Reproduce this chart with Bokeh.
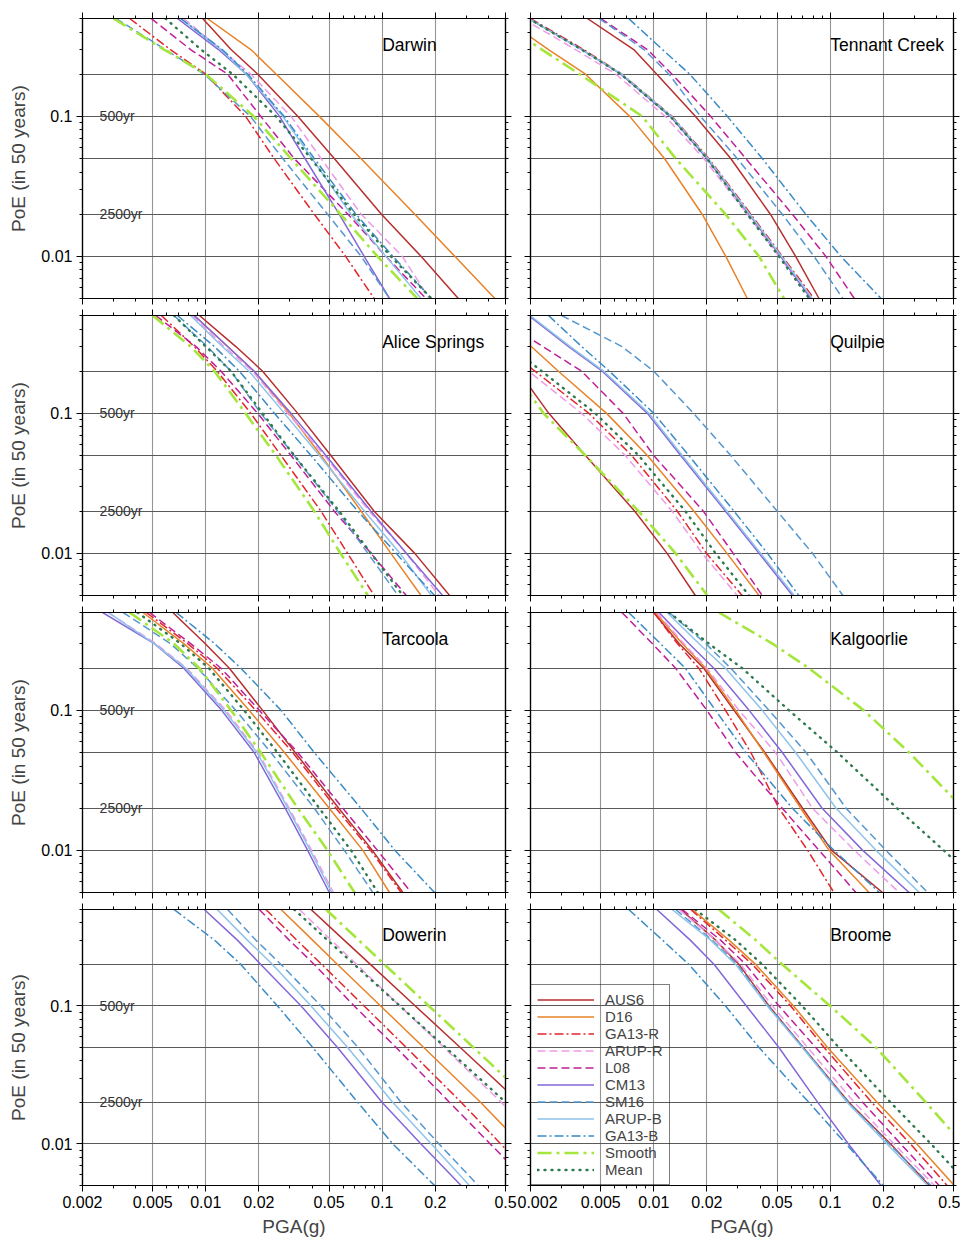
from bokeh.plotting import figure
from bokeh.models import (Range1d, LogAxis, FixedTicker, CustomJSTickFormatter,
                          Legend, LegendItem, Label)
from bokeh.layouts import gridplot
from bokeh.embed import file_html
from bokeh.resources import INLINE

FONT = "Liberation Sans"

# ---------------- data ----------------
# probability of exceedance levels (in 50 years) at which PGA is read
POE = [0.5, 0.3, 0.2, 0.1, 0.05, 0.02, 0.01, 0.005]

MODELS = ["AUS6", "D16", "GA13-R", "ARUP-R", "L08", "CM13", "SM16",
          "ARUP-B", "GA13-B", "Smooth", "Mean"]

STATIONS = ["Darwin", "Tennant Creek", "Alice Springs", "Quilpie",
            "Tarcoola", "Kalgoorlie", "Dowerin", "Broome"]

X_TICKS = [0.002, 0.005, 0.01, 0.02, 0.05, 0.1, 0.2, 0.5]
X_MINOR = [0.003, 0.004, 0.006, 0.007, 0.008, 0.009, 0.03, 0.04,
           0.06, 0.07, 0.08, 0.09, 0.3, 0.4]
Y_TICKS = [0.01, 0.1]
Y_MINOR = [0.005, 0.006, 0.007, 0.008, 0.009, 0.02, 0.03, 0.04, 0.05,
           0.06, 0.07, 0.08, 0.09, 0.2, 0.3, 0.4, 0.5]
Y_GRID = [0.01, 0.02, 0.05, 0.1, 0.2]

RP_LABELS = ["500yr", "2500yr"]
RP_POE = [0.1, 0.02]

# PGA (g) of each hazard curve at the POE levels above
DARWIN = {
    "AUS6":   [0.0096, 0.0139, 0.0197, 0.0332, 0.0535, 0.099, 0.166, 0.27],
    "D16":    [0.0102, 0.0180, 0.0251, 0.044, 0.0757, 0.153, 0.258, 0.435],
    "GA13-R": [0.0037, 0.0063, 0.0100, 0.0168, 0.0244, 0.0412, 0.062, 0.090],
    "ARUP-R": [0.0075, 0.0122, 0.0180, 0.0304, 0.045, 0.076, 0.130, 0.185],
    "L08":    [0.0049, 0.0082, 0.0133, 0.0205, 0.0317, 0.064, 0.105, 0.177],
    "CM13":   [0.0069, 0.0118, 0.0170, 0.0262, 0.0365, 0.057, 0.079, 0.110],
    "SM16":   [0.0031, 0.0059, 0.0098, 0.0179, 0.0273, 0.049, 0.076, 0.110],
    "ARUP-B": [0.0072, 0.0122, 0.0169, 0.0273, 0.040, 0.0665, 0.105, 0.166],
    "GA13-B": [0.0072, 0.0124, 0.0173, 0.0278, 0.0412, 0.071, 0.115, 0.190],
    "Smooth": [0.0030, 0.0058, 0.0100, 0.0187, 0.0304, 0.058, 0.094, 0.158],
    "Mean":   [0.0059, 0.0094, 0.0142, 0.0250, 0.0395, 0.069, 0.112, 0.190],
}

TENNANT_CREEK = {
    "AUS6":   [0.0042, 0.0077, 0.0104, 0.0172, 0.0273, 0.0458, 0.0637, 0.0864],
    "D16":    [0.00142, 0.00253, 0.0041, 0.0073, 0.0115, 0.0188, 0.0256, 0.0339],
    "GA13-R": [0.0020, 0.0040, 0.0066, 0.0127, 0.0205, 0.0355, 0.0535, 0.081],
    "ARUP-R": [0.0018, 0.0036, 0.0061, 0.0116, 0.0192, 0.0339, 0.0512, 0.0777],
    "L08":    [0.0050, 0.0092, 0.0127, 0.0210, 0.0332, 0.061, 0.0945, 0.137],
    "CM13":   [0.00195, 0.0039, 0.0065, 0.0124, 0.0200, 0.0347, 0.0523, 0.0777],
    "SM16":   [0.0049, 0.0088, 0.0122, 0.0184, 0.0297, 0.0535, 0.081, 0.118],
    "ARUP-B": [0.00195, 0.0039, 0.0066, 0.0126, 0.0203, 0.0350, 0.0530, 0.079],
    "GA13-B": [0.0072, 0.0112, 0.0160, 0.0261, 0.0412, 0.0727, 0.115, 0.194],
    "Smooth": [0.00126, 0.00232, 0.0038, 0.0086, 0.0133, 0.0255, 0.0395, 0.0547],
    "Mean":   [0.00195, 0.0039, 0.0065, 0.0124, 0.0200, 0.0339, 0.0512, 0.076],
}

ALICE_SPRINGS = {
    "AUS6":   [0.0092, 0.0148, 0.0210, 0.0332, 0.0512, 0.090, 0.153, 0.241],
    "D16":    [0.0086, 0.0133, 0.0188, 0.0297, 0.045, 0.076, 0.112, 0.166],
    "GA13-R": [0.0056, 0.0086, 0.0116, 0.0180, 0.0267, 0.045, 0.0637, 0.090],
    "ARUP-R": [0.0084, 0.0127, 0.0184, 0.0291, 0.047, 0.0845, 0.137, 0.210],
    "L08":    [0.0052, 0.0088, 0.0122, 0.0197, 0.0304, 0.0535, 0.0864, 0.137],
    "CM13":   [0.0086, 0.0133, 0.0188, 0.0304, 0.048, 0.0864, 0.137, 0.220],
    "SM16":   [0.0066, 0.0102, 0.0139, 0.0205, 0.0317, 0.0558, 0.083, 0.123],
    "ARUP-B": [0.0082, 0.0124, 0.0176, 0.0279, 0.044, 0.0794, 0.126, 0.190],
    "GA13-B": [0.0069, 0.0112, 0.0155, 0.0245, 0.0395, 0.0727, 0.120, 0.198],
    "Smooth": [0.0050, 0.0082, 0.0112, 0.0168, 0.0250, 0.0412, 0.058, 0.083],
    "Mean":   [0.0066, 0.0100, 0.0139, 0.0210, 0.0317, 0.057, 0.0864, 0.131],
}

QUILPIE = {
    "AUS6":   [0.00071, 0.00121, 0.00171, 0.00254, 0.0041, 0.0078, 0.0119, 0.0172],
    "D16":    [0.00121, 0.00202, 0.00288, 0.0054, 0.0092, 0.0169, 0.0260, 0.0395],
    "GA13-R": [0.00083, 0.00142, 0.00212, 0.00429, 0.0075, 0.0136, 0.0199, 0.0317],
    "ARUP-R": [0.00075, 0.00130, 0.00195, 0.0039, 0.0069, 0.0127, 0.0188, 0.0297],
    "L08":    [0.00123, 0.00235, 0.0039, 0.0067, 0.0100, 0.0191, 0.0282, 0.0412],
    "CM13":   [0.00195, 0.00329, 0.0051, 0.0092, 0.0142, 0.0255, 0.0395, 0.0612],
    "SM16":   [0.0030, 0.0066, 0.0100, 0.0168, 0.0273, 0.0501, 0.0794, 0.118],
    "ARUP-B": [0.00199, 0.00336, 0.0052, 0.0094, 0.0145, 0.0260, 0.0404, 0.0625],
    "GA13-B": [0.00253, 0.0039, 0.0056, 0.0100, 0.0158, 0.0285, 0.0441, 0.0664],
    "Smooth": [0.00063, 0.00109, 0.0016, 0.00237, 0.0041, 0.0082, 0.0133, 0.0201],
    "Mean":   [0.00089, 0.00153, 0.00232, 0.00466, 0.0082, 0.0151, 0.0224, 0.0347],
}

TARCOOLA = {
    "AUS6":   [0.0065, 0.0099, 0.0136, 0.0210, 0.0321, 0.0567, 0.0880, 0.131],
    "D16":    [0.0044, 0.0075, 0.0109, 0.0176, 0.0279, 0.0501, 0.0777, 0.110],
    "GA13-R": [0.0046, 0.0079, 0.0116, 0.0192, 0.0311, 0.0547, 0.0860, 0.128],
    "ARUP-R": [0.0028, 0.0052, 0.0078, 0.0130, 0.0198, 0.0297, 0.0398, 0.0529],
    "L08":    [0.0048, 0.0082, 0.0122, 0.0201, 0.0332, 0.0598, 0.0940, 0.146],
    "CM13":   [0.0026, 0.0051, 0.0075, 0.0123, 0.0188, 0.0282, 0.0378, 0.0501],
    "SM16":   [0.0034, 0.0063, 0.0090, 0.0148, 0.0234, 0.0412, 0.061, 0.0885],
    "ARUP-B": [0.0028, 0.0051, 0.0077, 0.0127, 0.0195, 0.0292, 0.0391, 0.0517],
    "GA13-B": [0.0068, 0.0112, 0.0158, 0.0267, 0.0412, 0.0757, 0.118, 0.198],
    "Smooth": [0.0037, 0.0066, 0.0092, 0.0139, 0.0205, 0.0332, 0.049, 0.0697],
    "Mean":   [0.0041, 0.0072, 0.0104, 0.0165, 0.0255, 0.044, 0.0666, 0.0945],
}

KALGOORLIE = {
    "AUS6":   [0.0100, 0.0139, 0.0192, 0.0285, 0.0426, 0.0697, 0.102, 0.198],
    "D16":    [0.0102, 0.0145, 0.0197, 0.0291, 0.0421, 0.0680, 0.0986, 0.166],
    "GA13-R": [0.0100, 0.0136, 0.0180, 0.0255, 0.0355, 0.0512, 0.0745, 0.105],
    "ARUP-R": [0.0104, 0.0148, 0.0200, 0.0304, 0.049, 0.0794, 0.137, 0.246],
    "L08":    [0.0066, 0.0098, 0.0133, 0.0200, 0.0291, 0.0535, 0.0864, 0.140],
    "CM13":   [0.0107, 0.0158, 0.0219, 0.0347, 0.0535, 0.090, 0.153, 0.280],
    "SM16":   [0.0122, 0.0197, 0.0273, 0.0450, 0.073, 0.123, 0.207, 0.357],
    "ARUP-B": [0.0119, 0.0180, 0.0255, 0.0412, 0.0637, 0.108, 0.182, 0.320],
    "GA13-B": [0.0072, 0.0109, 0.0151, 0.0224, 0.0332, 0.061, 0.105, 0.190],
    "Smooth": [0.0234, 0.047, 0.0757, 0.155, 0.280, 0.566, 0.97, 1.66],
    "Mean":   [0.0122, 0.0205, 0.0317, 0.0584, 0.110, 0.239, 0.44, 0.80],
}

DOWERIN = {
    "AUS6":   [0.0395, 0.0608, 0.0857, 0.154, 0.277, 0.60, 1.04, 1.80],
    "D16":    [0.0267, 0.0403, 0.0558, 0.098, 0.172, 0.362, 0.61, 1.05],
    "GA13-R": [0.0219, 0.0328, 0.0454, 0.079, 0.137, 0.281, 0.47, 0.80],
    "ARUP-R": [0.0339, 0.0514, 0.0716, 0.126, 0.224, 0.474, 0.80, 1.38],
    "L08":    [0.0201, 0.0297, 0.0412, 0.0694, 0.120, 0.241, 0.41, 0.70],
    "CM13":   [0.0098, 0.0151, 0.0205, 0.0347, 0.0558, 0.100, 0.166, 0.280],
    "SM16":   [0.0133, 0.0192, 0.0267, 0.0450, 0.073, 0.128, 0.210, 0.350],
    "ARUP-B": [0.0116, 0.0172, 0.0239, 0.0395, 0.0637, 0.115, 0.190, 0.312],
    "GA13-B": [0.0066, 0.0112, 0.0158, 0.0255, 0.0404, 0.0727, 0.115, 0.198],
    "Smooth": [0.0480, 0.0736, 0.103, 0.184, 0.329, 0.707, 1.20, 2.05],
    "Mean":   [0.0317, 0.049, 0.0694, 0.126, 0.229, 0.502, 0.88, 1.55],
}

BROOME = {
    "AUS6":   [0.0142, 0.0224, 0.0304, 0.0450, 0.0703, 0.128, 0.220, 0.365],
    "D16":    [0.0165, 0.0267, 0.0378, 0.0620, 0.0966, 0.185, 0.310, 0.505],
    "GA13-R": [0.0162, 0.0255, 0.0362, 0.0597, 0.0924, 0.172, 0.285, 0.460],
    "ARUP-R": [0.0139, 0.0224, 0.0311, 0.0470, 0.0745, 0.137, 0.230, 0.390],
    "L08":    [0.0145, 0.0239, 0.0332, 0.0512, 0.0828, 0.153, 0.251, 0.415],
    "CM13":   [0.0104, 0.0161, 0.0220, 0.0335, 0.0512, 0.085, 0.127, 0.194],
    "SM16":   [0.0133, 0.0214, 0.0297, 0.0447, 0.0703, 0.127, 0.216, 0.373],
    "ARUP-B": [0.0127, 0.0210, 0.0291, 0.0440, 0.0694, 0.125, 0.210, 0.357],
    "GA13-B": [0.0072, 0.0112, 0.0158, 0.0255, 0.0395, 0.0757, 0.123, 0.200],
    "Smooth": [0.0234, 0.0378, 0.0535, 0.100, 0.182, 0.349, 0.566, 0.953],
    "Mean":   [0.0172, 0.0291, 0.0412, 0.0694, 0.112, 0.220, 0.373, 0.615],
}

STATION_DATA = [DARWIN, TENNANT_CREEK, ALICE_SPRINGS, QUILPIE,
                TARCOOLA, KALGOORLIE, DOWERIN, BROOME]

# ---------------- styles ----------------
STYLE = {
    "AUS6":   ("#b5302e", "solid", 1.5),
    "D16":    ("#e8832a", "solid", 1.5),
    "GA13-R": ("#e3262d", "9 3 2 3", 1.5),
    "ARUP-R": ("#ef9be8", "8 4", 1.5),
    "L08":    ("#bf1f98", "8 4", 1.5),
    "CM13":   ("#8467d8", "solid", 1.5),
    "SM16":   ("#5697cf", "8 4", 1.5),
    "ARUP-B": ("#8ec3ea", "solid", 1.5),
    "GA13-B": ("#3a8bc6", "9 3 2 3", 1.5),
    "Smooth": ("#a4e63c", "14 5 3 5", 2.6),
    "Mean":   ("#2e7a4e", "1 6", 2.4),
}


def cfg_axis(ax, ticks, minor, labels):
    ax.ticker = FixedTicker(ticks=ticks, minor_ticks=minor)
    ax.axis_line_color = "black"
    ax.axis_line_width = 1.2
    ax.major_tick_line_color = "black"
    ax.minor_tick_line_color = "black"
    ax.major_tick_in = 0
    ax.major_tick_out = 6
    ax.minor_tick_in = 0
    ax.minor_tick_out = 3
    if labels:
        ax.formatter = CustomJSTickFormatter(code="return tick.toString()")
        ax.major_label_text_font = FONT
        ax.major_label_text_font_size = "16px"
        ax.major_label_text_color = "black"
        ax.major_label_standoff = 4
    else:
        ax.formatter = CustomJSTickFormatter(code="return ''")
        ax.major_label_text_font_size = "0px"
        ax.major_label_standoff = 0


def make_panel(idx):
    name = STATIONS[idx]
    data = STATION_DATA[idx]
    col = idx % 2
    row = idx // 2
    left = col == 0
    bottom = row == 3
    b_top = 18 if row == 0 else 10
    b_bot = 50 if bottom else 7
    b_left = 82 if left else 13
    b_right = 12 if left else 7
    p = figure(width=b_left + 423 + b_right, height=b_top + 280 + b_bot,
               x_axis_type="log", y_axis_type="log",
               x_range=Range1d(0.002, 0.5), y_range=Range1d(0.005, 0.5),
               output_backend="svg", toolbar_location=None,
               min_border_left=b_left, min_border_right=b_right,
               min_border_top=b_top, min_border_bottom=b_bot)
    p.outline_line_color = "black"
    p.outline_line_width = 1.2
    p.background_fill_color = "white"
    p.border_fill_color = "white"

    xb = p.below[0]
    yl = p.left[0]
    cfg_axis(xb, X_TICKS, X_MINOR, bottom)
    cfg_axis(yl, Y_TICKS, Y_MINOR, left)
    xt = LogAxis()
    cfg_axis(xt, X_TICKS, X_MINOR, False)
    p.add_layout(xt, "above")
    yr = LogAxis()
    cfg_axis(yr, Y_TICKS, Y_MINOR, False)
    p.add_layout(yr, "right")

    if left:
        yl.axis_label = "PoE (in 50 years)"
        yl.axis_label_text_font = FONT
        yl.axis_label_text_font_size = "19px"
        yl.axis_label_text_font_style = "normal"
        yl.axis_label_standoff = 9
    if bottom:
        xb.axis_label = "PGA(g)"
        xb.axis_label_text_font = FONT
        xb.axis_label_text_font_size = "19px"
        xb.axis_label_text_font_style = "normal"
        xb.axis_label_standoff = 5

    p.xgrid.ticker = FixedTicker(ticks=X_TICKS)
    p.ygrid.ticker = FixedTicker(ticks=Y_GRID)
    p.xgrid.grid_line_color = "#959595"
    p.xgrid.grid_line_width = 1.1
    p.ygrid.grid_line_color = "#5a5a5a"
    p.ygrid.grid_line_width = 1.0

    rends = {}
    for m in MODELS:
        color, dash, w = STYLE[m]
        r = p.line(x=data[m], y=POE, line_color=color, line_dash=dash,
                   line_width=w, line_cap="round" if m == "Mean" else "butt")
        rends[m] = r

    p.add_layout(Label(x=0.1, y=0.325, text=name, text_font=FONT,
                       text_font_size="17.5px", text_baseline="middle",
                       text_align="left", text_color="black"))
    if left:
        for lab, pv in zip(RP_LABELS, RP_POE):
            p.add_layout(Label(x=0.0025, y=pv, text=lab, text_font=FONT,
                               text_font_size="14px", text_baseline="middle",
                               text_align="left", text_color="#333333"))

    if name == "Broome":
        items = [LegendItem(label=m, renderers=[rends[m]]) for m in MODELS]
        leg = Legend(items=items, location="bottom_left", margin=0, padding=6,
                     spacing=0, label_height=17, glyph_height=17,
                     glyph_width=57, label_standoff=11,
                     label_text_font=FONT, label_text_font_size="15px",
                     label_text_line_height=1.1,
                     border_line_color="black", border_line_width=1.5,
                     background_fill_alpha=0)
        p.add_layout(leg)
    return p


panels = [make_panel(i) for i in range(8)]
grid = gridplot([[panels[0], panels[1]], [panels[2], panels[3]],
                 [panels[4], panels[5]], [panels[6], panels[7]]],
                toolbar_location=None)

open("out.html", "w").write(file_html(grid, INLINE))
